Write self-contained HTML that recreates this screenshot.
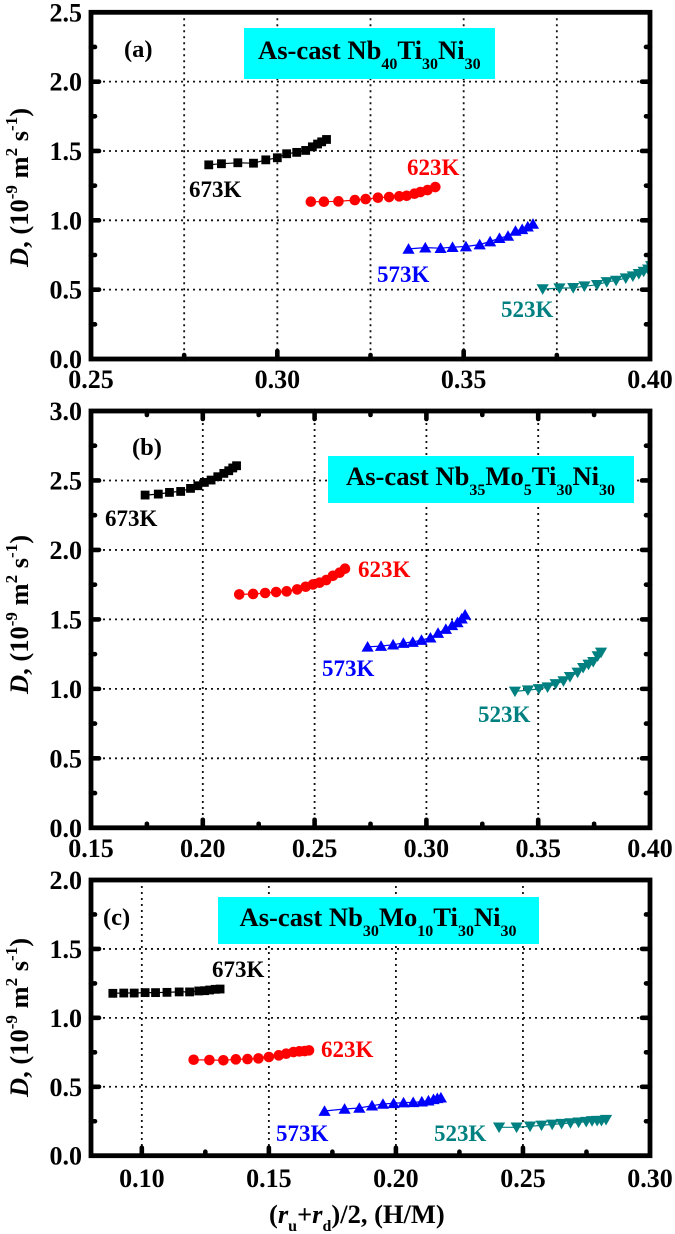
<!DOCTYPE html>
<html lang="en">
<head>
<meta charset="utf-8">
<title>Diffusion coefficient charts</title>
<style>
html,body{margin:0;padding:0;background:#fff;width:675px;height:1234px;overflow:hidden}
svg{display:block;filter:blur(0.35px)}
text{font-family:"Liberation Serif",serif;font-weight:bold}
.tick{font-size:26px}
.temp{font-size:23px}
.box{font-size:26.6px}
.sub{font-size:16px}
.title{font-size:26.5px}
.sup{font-size:17px}
.pl{font-size:24.5px}
</style>
</head>
<body>
<svg id="chart" xmlns="http://www.w3.org/2000/svg" width="675" height="1234" viewBox="0 0 675 1234">
  <defs>
    <clipPath id="clip-a"><rect x="91" y="12" width="559" height="347"/></clipPath>
    <clipPath id="clip-b"><rect x="91" y="411" width="559" height="417"/></clipPath>
    <clipPath id="clip-c"><rect x="91" y="880" width="559" height="276"/></clipPath>
  </defs>

  <g id="panel-a">
    <g id="grid-a"></g>
    <rect x="244" y="28" width="251" height="51" fill="#00ffff"/>
    <text class="box" x="258" y="59">As-cast Nb<tspan class="sub" dy="10">40</tspan><tspan dy="-10">Ti</tspan><tspan class="sub" dy="10">30</tspan><tspan dy="-10">Ni</tspan><tspan class="sub" dy="10">30</tspan></text>
    <text class="pl" x="124" y="57">(a)</text>
    <g id="series-a" clip-path="url(#clip-a)"></g>
    <g id="frame-a"></g>
    <text class="temp" x="189" y="197" fill="#000">673K</text>
    <text class="temp" x="407" y="175" fill="#ff0000">623K</text>
    <text class="temp" x="377" y="282" fill="#0000ff">573K</text>
    <text class="temp" x="501" y="317" fill="#008080">523K</text>
    <text class="title" transform="translate(28,267) rotate(-90)"><tspan font-style="italic">D</tspan>, (10<tspan class="sup" dy="-11">-9</tspan><tspan dy="11"> m</tspan><tspan class="sup" dy="-11">2</tspan><tspan dy="11"> s</tspan><tspan class="sup" dy="-11">-1</tspan><tspan dy="11">)</tspan></text>
  </g>

  <g id="panel-b">
    <g id="grid-b"></g>
    <rect x="328" y="456" width="306" height="47" fill="#00ffff"/>
    <text class="box" x="346" y="485">As-cast Nb<tspan class="sub" dy="10">35</tspan><tspan dy="-10">Mo</tspan><tspan class="sub" dy="10">5</tspan><tspan dy="-10">Ti</tspan><tspan class="sub" dy="10">30</tspan><tspan dy="-10">Ni</tspan><tspan class="sub" dy="10">30</tspan></text>
    <text class="pl" x="132" y="455">(b)</text>
    <g id="series-b" clip-path="url(#clip-b)"></g>
    <g id="frame-b"></g>
    <text class="temp" x="105" y="526" fill="#000">673K</text>
    <text class="temp" x="358" y="577" fill="#ff0000">623K</text>
    <text class="temp" x="322" y="676" fill="#0000ff">573K</text>
    <text class="temp" x="478" y="722" fill="#008080">523K</text>
    <text class="title" transform="translate(28,694) rotate(-90)"><tspan font-style="italic">D</tspan>, (10<tspan class="sup" dy="-11">-9</tspan><tspan dy="11"> m</tspan><tspan class="sup" dy="-11">2</tspan><tspan dy="11"> s</tspan><tspan class="sup" dy="-11">-1</tspan><tspan dy="11">)</tspan></text>
  </g>

  <g id="panel-c">
    <g id="grid-c"></g>
    <rect x="218" y="897" width="321" height="47" fill="#00ffff"/>
    <text class="box" x="239.5" y="926">As-cast Nb<tspan class="sub" dy="10">30</tspan><tspan dy="-10">Mo</tspan><tspan class="sub" dy="10">10</tspan><tspan dy="-10">Ti</tspan><tspan class="sub" dy="10">30</tspan><tspan dy="-10">Ni</tspan><tspan class="sub" dy="10">30</tspan></text>
    <text class="pl" x="103" y="925">(c)</text>
    <g id="series-c" clip-path="url(#clip-c)"></g>
    <g id="frame-c"></g>
    <text class="temp" x="212" y="977" fill="#000">673K</text>
    <text class="temp" x="321" y="1057" fill="#ff0000">623K</text>
    <text class="temp" x="276" y="1141" fill="#0000ff">573K</text>
    <text class="temp" x="434" y="1141" fill="#008080">523K</text>
    <text class="title" transform="translate(28,1097) rotate(-90)"><tspan font-style="italic">D</tspan>, (10<tspan class="sup" dy="-11">-9</tspan><tspan dy="11"> m</tspan><tspan class="sup" dy="-11">2</tspan><tspan dy="11"> s</tspan><tspan class="sup" dy="-11">-1</tspan><tspan dy="11">)</tspan></text>
    <text class="title" x="269" y="1223">(<tspan font-style="italic">r</tspan><tspan class="sub" dy="8">u</tspan><tspan dy="-8">+</tspan><tspan font-style="italic">r</tspan><tspan class="sub" dy="8">d</tspan><tspan dy="-8">)/2, (H/M)</tspan></text>
  </g>
</svg>

<script>
// Panel (a) values
const aXTickLabels = ["0.25", "0.30", "0.35", "0.40"];
const aYTickLabels = ["0.0", "0.5", "1.0", "1.5", "2.0", "2.5"];
const aX673 = [.2816,.2850,.2894,.2936,.2969,.3000,.3025,.3052,.3076,.3094,.3108,.3119,.3132];
const aY673 = [1.400,1.408,1.415,1.412,1.436,1.451,1.480,1.490,1.504,1.530,1.550,1.566,1.583];
const aX623 = [.3090,.3125,.3164,.3208,.3237,.3270,.3300,.3327,.3347,.3368,.3384,.3403,.3424];
const aY623 = [1.134,1.134,1.137,1.146,1.153,1.163,1.168,1.173,1.177,1.192,1.204,1.218,1.240];
const aX573 = [.3352,.3397,.3438,.3470,.3506,.3543,.3571,.3596,.3619,.3639,.3657,.3672,.3686];
const aY573 = [.794,.803,.799,.806,.811,.825,.847,.871,.887,.923,.935,.954,.974];
const aX523 = [.3712,.3757,.3794,.3824,.3858,.3884,.3909,.3935,.3954,.3970,.3983,.3995,.4003];
const aY523 = [.504,.511,.513,.525,.535,.556,.566,.583,.597,.614,.631,.647,.671];

// Panel (b) values
const bXTickLabels = ["0.15", "0.20", "0.25", "0.30", "0.35", "0.40"];
const bYTickLabels = ["0.0", "0.5", "1.0", "1.5", "2.0", "2.5", "3.0"];
const bX673 = [.1742,.1801,.1851,.1901,.1945,.1978,.2007,.2037,.2067,.2094,.2116,.2134,.2151];
const bY673 = [2.395,2.402,2.414,2.421,2.443,2.462,2.486,2.503,2.527,2.551,2.570,2.590,2.606];
const bX623 = [.2163,.2225,.2279,.2328,.2375,.2422,.2460,.2493,.2522,.2552,.2582,.2612,.2636];
const bY623 = [1.680,1.683,1.690,1.697,1.702,1.716,1.735,1.752,1.764,1.783,1.814,1.836,1.865];
const bX573 = [.2737,.2797,.2851,.2897,.2939,.2978,.3018,.3052,.3087,.3115,.3139,.3158,.3173];
const bY573 = [1.303,1.308,1.318,1.330,1.337,1.351,1.368,1.402,1.430,1.457,1.478,1.505,1.533];
const bX523 = [.3396,.3454,.3503,.3542,.3578,.3613,.3642,.3676,.3701,.3725,.3746,.3766,.3781];
const bY523 = [.982,.991,1.000,1.012,1.036,1.056,1.087,1.118,1.152,1.176,1.195,1.236,1.262];

// Panel (c) values
const cXTickLabels = ["0.10", "0.15", "0.20", "0.25", "0.30"];
const cYTickLabels = ["0.0", "0.5", "1.0", "1.5", "2.0"];
const cX673 = [.0886,.0929,.0970,.1013,.1054,.1099,.1147,.1188,.1224,.1247,.1267,.1289,.1308];
const cY673 = [1.178,1.180,1.180,1.183,1.183,1.185,1.188,1.188,1.195,1.197,1.202,1.207,1.209];
const cX623 = [.1204,.1266,.1321,.1370,.1416,.1459,.1500,.1539,.1568,.1597,.1620,.1641,.1658];
const cY623 = [.696,.694,.692,.699,.701,.706,.716,.728,.740,.752,.757,.759,.764];
const cX573 = [.1719,.1798,.1856,.1906,.1949,.1991,.2030,.2068,.2102,.2128,.2148,.2163,.2177];
const cY573 = [.324,.339,.346,.363,.375,.380,.385,.387,.392,.399,.409,.416,.421];
const cX523 = [.2406,.2475,.2528,.2573,.2615,.2652,.2687,.2719,.2749,.2772,.2792,.2809,.2827];
const cY523 = [.206,.206,.213,.220,.227,.232,.237,.242,.247,.252,.254,.254,.261];

const NS = "http://www.w3.org/2000/svg";

function mk(tag, attrs, parent) {
  const el = document.createElementNS(NS, tag);
  for (const k in attrs) el.setAttribute(k, attrs[k]);
  parent.appendChild(el);
  return el;
}

function steps(min, max, step) {
  const out = [];
  const n = Math.round((max - min) / step);
  for (let i = 0; i <= n; i++) out.push(min + i * step);
  return out;
}

function drawMarker(kind, px, py, color, g) {
  let el;
  if (kind === "square") {
    el = mk("rect", {x: px - 4.4, y: py - 4.4, width: 8.8, height: 8.8, fill: color}, g);
  } else if (kind === "circle") {
    el = mk("circle", {cx: px, cy: py, r: 5.3, fill: color}, g);
  } else if (kind === "up") {
    el = mk("path", {d: "M" + (px - 6.1) + " " + (py + 4.8) + "L" + px + " " + (py - 5.8) + "L" + (px + 6.1) + " " + (py + 4.8) + "Z", fill: color}, g);
  } else {
    el = mk("path", {d: "M" + (px - 6.1) + " " + (py - 4.8) + "L" + px + " " + (py + 5.8) + "L" + (px + 6.1) + " " + (py - 4.8) + "Z", fill: color}, g);
  }
  return el;
}

function drawPanel(p) {
  const L = 91, R = 650;
  const sx = v => L + (v - p.xMin) / (p.xMax - p.xMin) * (R - L);
  const sy = v => p.bottom - (v - p.yMin) / (p.yMax - p.yMin) * (p.bottom - p.top);
  const gridG = document.getElementById("grid-" + p.id);
  const frameG = document.getElementById("frame-" + p.id);
  const seriesG = document.getElementById("series-" + p.id);

  // gridlines
  steps(p.xGridStart, p.xGridEnd, p.xGridStep).forEach(v => {
    const l = mk("line", {x1: sx(v), x2: sx(v), y1: p.top, y2: p.bottom, stroke: "#111", "stroke-width": 1.8, "stroke-dasharray": "2 4"}, gridG);
    
    
  });
  p.yLabels.map(parseFloat).filter(v => v > p.yMin && v < p.yMax).forEach(v => {
    const l = mk("line", {x1: L, x2: R, y1: sy(v), y2: sy(v), stroke: "#111", "stroke-width": 1.8, "stroke-dasharray": "2 4"}, gridG);
    
    
  });

  // series
  p.series.forEach(s => {
    const g = mk("g", {}, seriesG);
    
    
    const pts = s.x.map((v, i) => sx(v).toFixed(1) + "," + sy(s.y[i]).toFixed(1)).join(" ");
    const line = mk("polyline", {points: pts, fill: "none", stroke: s.color, "stroke-width": 1.2}, g);
    
    
    s.x.forEach((v, i) => {
      const m = drawMarker(s.kind, sx(v), sy(s.y[i]), s.color, g);
      
      
    });
  });

  // frame
  const frame = mk("rect", {x: L, y: p.top, width: R - L, height: p.bottom - p.top, fill: "none", stroke: "#000", "stroke-width": 4.8}, frameG);
  
  

  // ticks
  const tickStyle = {stroke: "#000", "stroke-width": 4.6, "stroke-linecap": "round"};
  const xMinor = p.xMinorStep;
  steps(p.xTickStart, p.xMax, xMinor).forEach((v, i) => {
    if (v <= p.xMin + 1e-6 || v >= p.xMax - 1e-6) return;
    const major = Math.abs(Math.round(v / p.xMajor) * p.xMajor - v) < 1e-6;
    const len = major ? 8 : 4;
    const t = mk("line", Object.assign({x1: sx(v), x2: sx(v), y1: p.bottom, y2: p.bottom - len}, tickStyle), frameG);
    
    
    if (p.topTicks) {
      const t2 = mk("line", Object.assign({x1: sx(v), x2: sx(v), y1: p.top, y2: p.top + len}, tickStyle), frameG);
      
      
    }
  });
  steps(p.yMin, p.yMax, 0.25).forEach(v => {
    if (v <= p.yMin + 1e-6 || v >= p.yMax - 1e-6) return;
    const major = Math.abs(Math.round(v / 0.5) * 0.5 - v) < 1e-6;
    const len = major ? 8 : 4;
    const t = mk("line", Object.assign({x1: L, x2: L + len, y1: sy(v), y2: sy(v)}, tickStyle), frameG);
    
    
    const t2 = mk("line", Object.assign({x1: R, x2: R - len, y1: sy(v), y2: sy(v)}, tickStyle), frameG);
    
    
  });

  // tick labels
  p.xLabels.forEach(lab => {
    const t = mk("text", {class: "tick", x: sx(parseFloat(lab)), y: p.xLabelY, "text-anchor": "middle"}, frameG);
    t.textContent = lab;
    
    
  });
  p.yLabels.forEach(lab => {
    const t = mk("text", {class: "tick", x: 82, y: sy(parseFloat(lab)) + 9, "text-anchor": "end"}, frameG);
    t.textContent = lab;
    
    
  });
}

drawPanel({
  id: "a", top: 12.3, bottom: 359, xMin: .25, xMax: .40, yMin: 0, yMax: 2.5,
  xGridStart: .275, xGridEnd: .375, xGridStep: .025, xTickStart: .25, xMinorStep: .025, xMajor: .05,
  topTicks: false, xLabelY: 388, xLabels: aXTickLabels, yLabels: aYTickLabels,
  series: [
    {name: "673k", kind: "square", color: "#000000", x: aX673, y: aY673},
    {name: "623k", kind: "circle", color: "#ff0000", x: aX623, y: aY623},
    {name: "573k", kind: "up", color: "#0000ff", x: aX573, y: aY573},
    {name: "523k", kind: "down", color: "#008080", x: aX523, y: aY523}
  ]
});
drawPanel({
  id: "b", top: 411, bottom: 827.8, xMin: .15, xMax: .40, yMin: 0, yMax: 3,
  xGridStart: .20, xGridEnd: .35, xGridStep: .05, xTickStart: .15, xMinorStep: .025, xMajor: .05,
  topTicks: true, xLabelY: 857, xLabels: bXTickLabels, yLabels: bYTickLabels,
  series: [
    {name: "673k", kind: "square", color: "#000000", x: bX673, y: bY673},
    {name: "623k", kind: "circle", color: "#ff0000", x: bX623, y: bY623},
    {name: "573k", kind: "up", color: "#0000ff", x: bX573, y: bY573},
    {name: "523k", kind: "down", color: "#008080", x: bX523, y: bY523}
  ]
});
drawPanel({
  id: "c", top: 880, bottom: 1155.7, xMin: .08, xMax: .30, yMin: 0, yMax: 2,
  xGridStart: .10, xGridEnd: .25, xGridStep: .05, xTickStart: .10, xMinorStep: .025, xMajor: .05,
  topTicks: false, xLabelY: 1187, xLabels: cXTickLabels, yLabels: cYTickLabels,
  series: [
    {name: "673k", kind: "square", color: "#000000", x: cX673, y: cY673},
    {name: "623k", kind: "circle", color: "#ff0000", x: cX623, y: cY623},
    {name: "573k", kind: "up", color: "#0000ff", x: cX573, y: cY573},
    {name: "523k", kind: "down", color: "#008080", x: cX523, y: cY523}
  ]
});
</script>
</body>
</html>
